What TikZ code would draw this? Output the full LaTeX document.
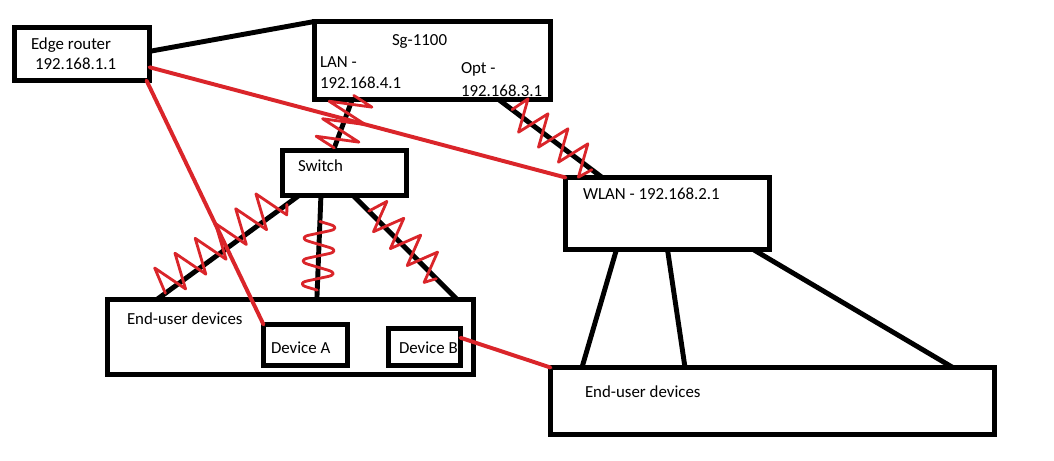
\documentclass[tikz,border=0pt]{standalone}
\usepackage{fontspec}
\setmainfont{Carlito}
\usetikzlibrary{calc}
\definecolor{penred}{RGB}{218,37,42}

% hand drawn red scribble over a link: [extra style]{from}{to}{teeth}{amplitude left}{amplitude right}
\newcommand{\zigline}[6][]{%
  \draw[wavepen,#1] (#2) \foreach \k in {1,...,#4}{
    -- ($(#2)!{(\k-0.75)/#4}!(#3)!#5!90:(#3)$)
    -- ($(#2)!{(\k-0.25)/#4}!(#3)!#6!-90:(#3)$)} -- (#3);}

\begin{document}
\begin{tikzpicture}[x=0.025cm,y=-0.025cm]
\tikzstyle{every node}=[inner sep=0pt,outer sep=0pt,font=\fontsize{12}{14}\selectfont]
\tikzstyle{box}=[draw,line width=3.5pt,rectangle]
\tikzstyle{lbl}=[anchor=west]
\tikzstyle{wire}=[line width=3.5pt]
\tikzstyle{cable}=[penred,line width=2.8pt,line cap=round]
\tikzstyle{wavepen}=[penred,line width=2pt,line join=round,line cap=round]
\useasboundingbox (0,0) rectangle (1054,461);

% boxes
\node[box,minimum width=3.375cm,minimum height=1.325cm] (er) at (82,54) {};
\node[box,minimum width=5.9cm,minimum height=1.95cm] (sg) at (432.5,60.5) {};
\node[box,minimum width=3.1cm,minimum height=1.125cm] (sw) at (344.5,173) {};
\node[box,minimum width=5.1cm,minimum height=1.8cm] (wlan) at (667.5,213.5) {};
\node[box,minimum width=9.15cm,minimum height=1.875cm] (leud) at (290.5,337) {};
\node[box,minimum width=2.1cm,minimum height=1.025cm] (deva) at (305.5,345) {};
\node[box,minimum width=1.8cm,minimum height=0.925cm] (devb) at (424.5,347) {};
\node[box,minimum width=11.1cm,minimum height=1.675cm] (reud) at (772.5,401) {};

% texts
\node[lbl] (ername) at (31,45) {Edge router};
\node[lbl] (erip) at (35,64) {192.168.1.1};
\node[lbl] (sgname) at (392,41) {Sg-1100};
\node[lbl] (lanname) at (320,62) {LAN -};
\node[lbl] (lanip) at (320,83) {192.168.4.1};
\node[lbl] (optname) at (461,69) {Opt -};
\node[lbl] (optip) at (461,91) {192.168.3.1};
\node[lbl] (swname) at (298,166) {Switch};
\node[lbl] (wlanname) at (583,194) {WLAN - 192.168.2.1};
\node[lbl] (leudname) at (127,319) {End-user devices};
\node[lbl] (devaname) at (271,348) {Device A};
\node[lbl] (devbname) at (399,348) {Device B};
\node[lbl] (reudname) at (585,392) {End-user devices};

% anchors of the links
\coordinate (lanA) at ($(sg.south west)!0.16!(sg.south east)$);
\coordinate (lanB) at ($(sw.north west)!0.41!(sw.north east)$);
\coordinate (optA) at ($(sg.south west)!0.78!(sg.south east)$);
\coordinate (optB) at ($(wlan.north west)!0.18!(wlan.north east)$);
\coordinate (s1a) at ($(sw.south west)!0.133!(sw.south east)$);
\coordinate (s1b) at ($(leud.north west)!0.135!(leud.north east)$);
\coordinate (s2a) at ($(sw.south west)!0.31!(sw.south east)$);
\coordinate (s2b) at ($(leud.north west)!0.572!(leud.north east)$);
\coordinate (s3a) at ($(sw.south west)!0.57!(sw.south east)$);
\coordinate (s3b) at ($(leud.north west)!0.955!(leud.north east)$);
\coordinate (w1a) at ($(wlan.south west)!0.25!(wlan.south east)$);
\coordinate (w1b) at ($(reud.north west)!0.071!(reud.north east)$);
\coordinate (w2a) at ($(wlan.south west)!0.50!(wlan.south east)$);
\coordinate (w2b) at ($(reud.north west)!0.303!(reud.north east)$);
\coordinate (w3a) at ($(wlan.south west)!0.92!(wlan.south east)$);
\coordinate (w3b) at ($(reud.north west)!0.906!(reud.north east)$);

% black links
\draw[wire] ($(er.north east)!0.45!(er.south east)$) -- (sg.north west);
\draw[wire] (lanA) -- (lanB);
\draw[wire] (optA) -- (optB);
\draw[wire] (s1a) -- (s1b);
\draw[wire] (s2a) -- (s2b);
\draw[wire] (s3a) -- (s3b);
\draw[wire] (w1a) -- (w1b);
\draw[wire] (w2a) -- (w2b);
\draw[wire] (w3a) -- (w3b);

% red scribbles
\coordinate (z1a) at ($(lanA)!-0.08!(lanB)$);
\coordinate (z1b) at ($(lanA)!0.95!(lanB)$);
\coordinate (z2a) at ($(optA)!0.13!(optB)$);
\coordinate (z2b) at ($(optA)!0.9!(optB)$);
\coordinate (z3a) at ($(s1a)!0.085!(s1b)$);
\coordinate (z3b) at ($(s1a)!0.94!(s1b)$);
\coordinate (z4a) at ($(s2a)!0.25!(s2b)$);
\coordinate (z4b) at ($(s2a)!0.91!(s2b)$);
\coordinate (z5a) at ($(s3a)!0.15!(s3b)$);
\coordinate (z5b) at ($(s3a)!0.8!(s3b)$);
\zigline{z1a}{z1b}{3}{15pt}{15pt}
\zigline{z2a}{z2b}{4}{13pt}{10pt}
\zigline{z3a}{z3b}{6}{6pt}{19pt}
\zigline[rounded corners=9pt]{z4a}{z4b}{3}{16pt}{16pt}
\zigline{z5a}{z5b}{4}{14pt}{8pt}

% red cables
\draw[cable] ($(er.north east)!0.75!(er.south east)$) -- (wlan.north west);
\draw[cable] ($(er.south east)+(-3,0)$) -- (deva.north west);
\draw[cable] ($(devb.north east)!0.25!(devb.south east)$) -- (reud.north west);
\end{tikzpicture}
\end{document}
